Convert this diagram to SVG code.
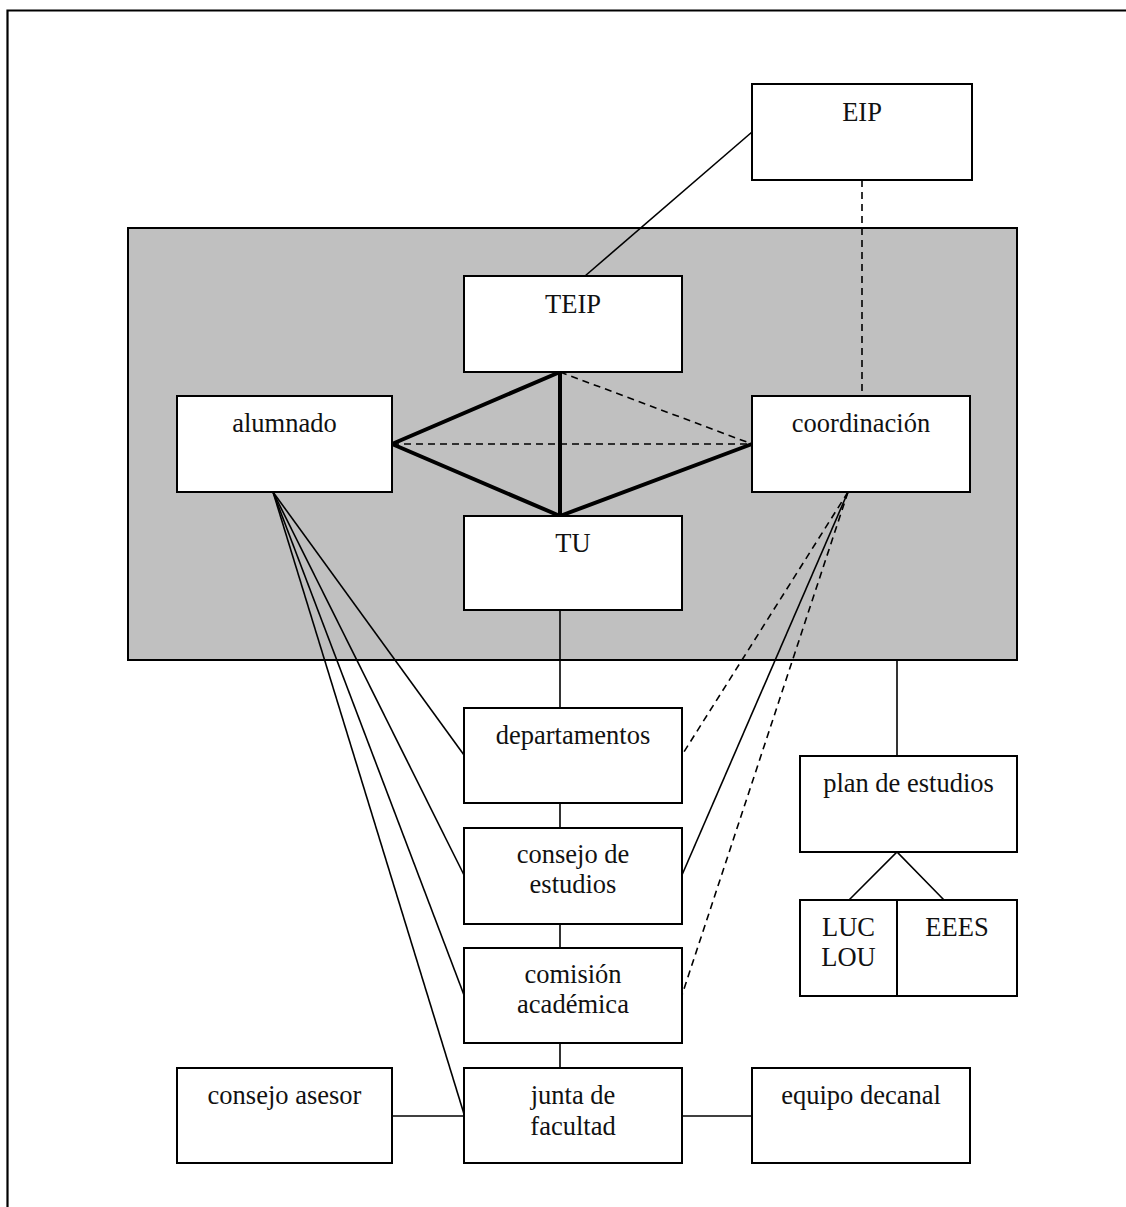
<svg xmlns="http://www.w3.org/2000/svg" width="1126" height="1207" viewBox="0 0 1126 1207">
<style>
.box{fill:#fff;stroke:#000;stroke-width:2}
.t{font-family:"Liberation Serif","Times New Roman",serif;font-size:26.5px;fill:#111;text-anchor:middle}
.ln{stroke:#000;stroke-width:1.6;fill:none}
.ds{stroke:#000;stroke-width:1.6;fill:none;stroke-dasharray:7 5}
.tk{stroke:#000;stroke-width:4;fill:none;stroke-linecap:round}
</style>
<rect width="1126" height="1207" fill="#fff"/>
<path d="M7.5 1207 V10.5 H1126" fill="none" stroke="#000" stroke-width="2.2"/>
<g id="contexto"><rect x="128" y="228" width="889" height="432" fill="#c0c0c0" stroke="#000" stroke-width="2"/></g>
<g id="connectors">
<line class="ln" x1="752" y1="132" x2="585" y2="276"/>
<line class="ds" x1="862" y1="180" x2="862" y2="396"/>
<line class="ds" x1="392" y1="444" x2="752" y2="444"/>
<line class="ds" x1="560" y1="372" x2="752" y2="444"/>
<line class="tk" x1="392" y1="444" x2="560" y2="372"/>
<line class="tk" x1="392" y1="444" x2="560" y2="516"/>
<line class="tk" x1="752" y1="444" x2="560" y2="516"/>
<line class="tk" x1="560" y1="372" x2="560" y2="516" stroke-width="3.5"/>
<line class="ln" x1="560" y1="610" x2="560" y2="708"/>
<line class="ln" x1="560" y1="803" x2="560" y2="828"/>
<line class="ln" x1="560" y1="924" x2="560" y2="948"/>
<line class="ln" x1="560" y1="1043" x2="560" y2="1068"/>
<line class="ln" x1="897" y1="660" x2="897" y2="756"/>
<line class="ln" x1="392" y1="1116" x2="464" y2="1116"/>
<line class="ln" x1="682" y1="1116" x2="752" y2="1116"/>
<line class="ln" x1="273" y1="492" x2="464" y2="755"/>
<line class="ln" x1="273" y1="492" x2="464" y2="875"/>
<line class="ln" x1="273" y1="492" x2="464" y2="995"/>
<line class="ln" x1="273" y1="492" x2="464" y2="1114"/>
<line class="ds" x1="848" y1="492" x2="682" y2="755"/>
<line class="ln" x1="848" y1="492" x2="682" y2="875"/>
<line class="ds" x1="848" y1="492" x2="682" y2="995"/>
<polyline class="ln" points="849,900 897,852 944,900"/>
</g>
<g id="EIP"><rect class="box" x="752" y="84" width="220" height="96"/><text class="t" x="862" y="121">EIP</text></g>
<g id="TEIP"><rect class="box" x="464" y="276" width="218" height="96"/><text class="t" x="573" y="313">TEIP</text></g>
<g id="alumnado"><rect class="box" x="177" y="396" width="215" height="96"/><text class="t" x="284.5" y="432">alumnado</text></g>
<g id="coordinacion"><rect class="box" x="752" y="396" width="218" height="96"/><text class="t" x="861" y="432">coordinación</text></g>
<g id="TU"><rect class="box" x="464" y="516" width="218" height="94"/><text class="t" x="573" y="552">TU</text></g>
<g id="departamentos"><rect class="box" x="464" y="708" width="218" height="95"/><text class="t" x="573" y="744">departamentos</text></g>
<g id="consejo-estudios"><rect class="box" x="464" y="828" width="218" height="96"/><text class="t" x="573" y="863">consejo de</text><text class="t" x="573" y="893">estudios</text></g>
<g id="comision"><rect class="box" x="464" y="948" width="218" height="95"/><text class="t" x="573" y="983">comisión</text><text class="t" x="573" y="1013">académica</text></g>
<g id="junta"><rect class="box" x="464" y="1068" width="218" height="95"/><text class="t" x="573" y="1104">junta de</text><text class="t" x="573" y="1135">facultad</text></g>
<g id="consejo-asesor"><rect class="box" x="177" y="1068" width="215" height="95"/><text class="t" x="284.5" y="1104">consejo asesor</text></g>
<g id="equipo-decanal"><rect class="box" x="752" y="1068" width="218" height="95"/><text class="t" x="861" y="1104">equipo decanal</text></g>
<g id="plan"><rect class="box" x="800" y="756" width="217" height="96"/><text class="t" x="908.5" y="792">plan de estudios</text></g>
<g id="LUC-LOU"><rect class="box" x="800" y="900" width="97" height="96"/><text class="t" x="848.5" y="936">LUC</text><text class="t" x="848.5" y="966">LOU</text></g>
<g id="EEES"><rect class="box" x="897" y="900" width="120" height="96"/><text class="t" x="957" y="936">EEES</text></g>
</svg>
